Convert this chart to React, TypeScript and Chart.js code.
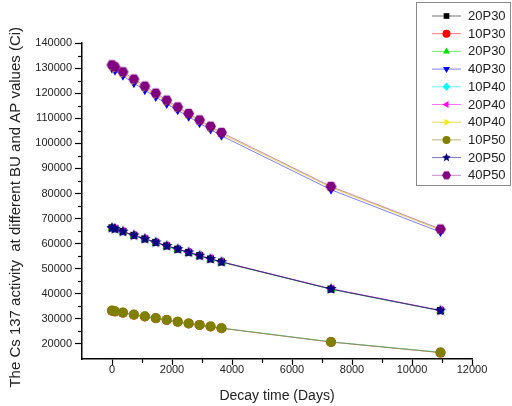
import React, { useEffect, useRef } from 'react';
import { Chart, registerables } from 'chart.js';
import { drawPoint } from 'chart.js/helpers';

Chart.register(...registerables);

const days = [0, 100, 365, 730, 1095, 1460, 1825, 2190, 2555, 2920, 3285, 3650, 7300, 10950];

const seriesLabels = ['20P30', '10P30', '20P30', '40P30', '10P40', '20P40', '40P40', '10P50', '20P50', '40P50'];

const s20P30black = [66300, 65900, 64800, 63300, 61900, 60500, 59100, 57800, 56500, 55200, 53900, 52700, 41900, 33300];
const s10P30 = [33250, 32950, 32450, 31650, 30950, 30250, 29550, 28850, 28150, 27550, 26950, 26250, 20750, 16550];
const s20P30green = [66200, 65800, 64700, 63200, 61800, 60400, 59000, 57700, 56400, 55100, 53800, 52600, 41800, 33200];
const s40P30 = [129700, 128900, 126900, 124000, 121200, 118500, 115700, 113200, 110600, 108000, 105500, 103000, 81500, 64600];
const s10P40 = [33350, 33050, 32550, 31750, 31050, 30350, 29650, 28950, 28250, 27650, 27050, 26350, 20850, 16650];
const s20P40 = [66400, 66000, 64900, 63400, 62000, 60600, 59200, 57900, 56600, 55300, 54000, 52800, 42000, 33400];
const s40P40 = [130600, 129800, 127800, 124900, 122100, 119300, 116600, 114000, 111400, 108800, 106300, 103800, 82400, 65400];
const s10P50 = [33300, 33000, 32500, 31700, 31000, 30300, 29600, 28900, 28200, 27600, 27000, 26300, 20800, 16600];
const s20P50 = [66300, 65900, 64800, 63300, 61900, 60500, 59100, 57800, 56500, 55200, 53900, 52700, 41900, 33300];
const s40P50 = [131300, 130500, 128500, 125600, 122800, 120000, 117200, 114500, 111900, 109300, 106800, 104300, 82800, 65800];

const seriesValues = [s20P30black, s10P30, s20P30green, s40P30, s10P40, s20P40, s40P40, s10P50, s20P50, s40P50];

const xTicks = [0, 2000, 4000, 6000, 8000, 10000, 12000];
const xMinorTicks = [1000, 3000, 5000, 7000, 9000, 11000];
const yTicks = [20000, 30000, 40000, 50000, 60000, 70000, 80000, 90000, 100000, 110000, 120000, 130000, 140000];
const yMinorTicks = [25000, 35000, 45000, 55000, 65000, 75000, 85000, 95000, 105000, 115000, 125000, 135000];

const FONT = '"Liberation Sans", Arial, sans-serif';

function makeStar(color: string, r: number): HTMLCanvasElement {
  const size = Math.ceil(r * 2 + 2);
  const c = document.createElement('canvas');
  c.width = size; c.height = size;
  const ctx = c.getContext('2d')!;
  const cx = size / 2, cy = size / 2;
  ctx.beginPath();
  for (let i = 0; i < 10; i++) {
    const rr = i % 2 === 0 ? r : r * 0.45;
    const a = -Math.PI / 2 + (i * Math.PI) / 5;
    const px = cx + rr * Math.cos(a), py = cy + rr * Math.sin(a);
    if (i === 0) ctx.moveTo(px, py); else ctx.lineTo(px, py);
  }
  ctx.closePath();
  ctx.fillStyle = color;
  ctx.fill();
  return c;
}

function makeHex(color: string, r: number): HTMLCanvasElement {
  const size = Math.ceil(r * 2 + 2);
  const c = document.createElement('canvas');
  c.width = size; c.height = size;
  const ctx = c.getContext('2d')!;
  const cx = size / 2, cy = size / 2;
  ctx.beginPath();
  for (let i = 0; i < 6; i++) {
    const a = (i * Math.PI) / 3;
    const px = cx + r * Math.cos(a), py = cy + r * Math.sin(a);
    if (i === 0) ctx.moveTo(px, py); else ctx.lineTo(px, py);
  }
  ctx.closePath();
  ctx.fillStyle = color;
  ctx.fill();
  return c;
}

const minorTickPlugin = {
  id: 'minorTicks',
  afterDraw(chart: any) {
    const { ctx, scales, chartArea } = chart;
    ctx.save();
    ctx.strokeStyle = '#000';
    ctx.lineWidth = 1.2;
    for (const v of xMinorTicks) {
      const px = Math.round(scales.x.getPixelForValue(v)) + 0.5;
      ctx.beginPath();
      ctx.moveTo(px, chartArea.bottom);
      ctx.lineTo(px, chartArea.bottom + 4);
      ctx.stroke();
    }
    for (const v of yMinorTicks) {
      const py = Math.round(scales.y.getPixelForValue(v)) + 0.5;
      ctx.beginPath();
      ctx.moveTo(chartArea.left, py);
      ctx.lineTo(chartArea.left - 4, py);
      ctx.stroke();
    }
    ctx.restore();
  },
};

const legendPlugin = {
  id: 'boxLegend',
  afterDraw(chart: any) {
    const ctx = chart.ctx;
    ctx.save();
    ctx.fillStyle = '#fff';
    ctx.fillRect(416.5, 2.5, 94, 183);
    ctx.strokeStyle = '#8a8a8a';
    ctx.lineWidth = 1;
    ctx.strokeRect(416.5, 2.5, 94, 183);
    chart.data.datasets.forEach((ds: any, i: number) => {
      const y = 16 + i * 17.7;
      ctx.strokeStyle = ds.borderColor;
      ctx.lineWidth = 1;
      ctx.beginPath();
      ctx.moveTo(432, y);
      ctx.lineTo(461, y);
      ctx.stroke();
      ctx.fillStyle = ds.pointBackgroundColor;
      drawPoint(ctx, { pointStyle: ds.legendStyle, rotation: ds.pointRotation || 0, radius: 4, borderWidth: 0 } as any, 446.5, y);
      ctx.fillStyle = '#222';
      ctx.font = '13px ' + FONT;
      ctx.textAlign = 'left';
      ctx.textBaseline = 'middle';
      ctx.fillText(ds.label, 468, y + 0.5);
    });
    ctx.restore();
  },
};

export default function App() {
  const ref = useRef<HTMLCanvasElement>(null);

  useEffect(() => {
    if (!ref.current) return;
    const styles = [
      { color: '#000000', line: 'rgba(0,0,0,0.55)', style: 'rect', rot: 0 },
      { color: '#ff0000', line: 'rgba(255,0,0,0.55)', style: 'circle', rot: 0 },
      { color: '#00e000', line: 'rgba(0,220,0,0.55)', style: 'triangle', rot: 0 },
      { color: '#0000ff', line: 'rgba(0,0,255,0.5)', style: 'triangle', rot: 180 },
      { color: '#00ffff', line: 'rgba(0,230,230,0.6)', style: 'rectRot', rot: 0 },
      { color: '#ff00ff', line: 'rgba(255,0,255,0.55)', style: 'triangle', rot: -90 },
      { color: '#f0f000', line: 'rgba(230,200,0,0.7)', style: 'triangle', rot: 90 },
      { color: '#808000', line: 'rgba(128,128,0,0.55)', style: 'circle', rot: 0 },
      { color: '#000080', line: 'rgba(0,0,128,0.55)', style: 'star', rot: 0 },
      { color: '#800080', line: 'rgba(160,60,160,0.6)', style: 'hex', rot: 0 },
    ];

    const datasets = seriesValues.map((vals, i) => {
      const st = styles[i];
      let pointStyle: any = st.style;
      let legendStyle: any = st.style;
      if (st.style === 'star') {
        pointStyle = makeStar(st.color, 6);
        legendStyle = makeStar(st.color, 4.5);
      } else if (st.style === 'hex') {
        pointStyle = makeHex(st.color, 5.5);
        legendStyle = makeHex(st.color, 4.5);
      }
      return {
        label: seriesLabels[i],
        data: days.map((d, j) => ({ x: d, y: vals[j] })),
        borderColor: st.line,
        backgroundColor: st.color,
        pointBackgroundColor: st.color,
        pointBorderWidth: 0,
        pointRadius: 5,
        pointStyle,
        legendStyle,
        pointRotation: st.rot,
        borderWidth: 1,
        fill: false,
        tension: 0,
        order: 9 - i,
      };
    });

    const chart = new Chart(ref.current, {
      type: 'line',
      data: { datasets: datasets as any },
      options: {
        responsive: false,
        animation: false,
        events: [],
        layout: { padding: { top: 43, right: 40, left: 0, bottom: 0 } },
        plugins: {
          legend: { display: false },
          tooltip: { enabled: false },
        },
        scales: {
          x: {
            type: 'linear',
            min: -1000,
            max: 12000,
            afterBuildTicks: (s: any) => {
              s.ticks = xTicks.map((v) => ({ value: v }));
            },
            afterFit: (s: any) => {
              s.height = 47;
            },
            grid: { display: true, drawOnChartArea: false, drawTicks: true, tickLength: 6, tickColor: '#000', tickWidth: 1.2 },
            border: { display: true, color: '#000', width: 1.5 },
            ticks: {
              autoSkip: false,
              maxRotation: 0,
              padding: -2,
              color: '#222',
              font: { family: FONT, size: 11 },
              callback: (v: any) => String(v),
            },
            title: {
              display: true,
              text: 'Decay time (Days)',
              color: '#222',
              font: { family: FONT, size: 14 },
              padding: { top: 0, bottom: 1 },
            },
          },
          y: {
            type: 'linear',
            min: 14000,
            max: 140000,
            afterBuildTicks: (s: any) => {
              s.ticks = yTicks.map((v) => ({ value: v }));
            },
            afterFit: (s: any) => {
              s.width = 82;
            },
            grid: { display: true, drawOnChartArea: false, drawTicks: true, tickLength: 7, tickColor: '#000', tickWidth: 1.2 },
            border: { display: true, color: '#000', width: 1.5 },
            ticks: {
              autoSkip: false,
              padding: 3,
              color: '#222',
              font: { family: FONT, size: 11 },
              callback: (v: any) => String(v),
            },
            title: {
              display: true,
              text: 'The Cs 137 activity  at different BU and AP values (Ci)   ',
              color: '#222',
              font: { family: FONT, size: 15 },
              padding: { top: 7, bottom: 0 },
            },
          },
        },
      },
      plugins: [minorTickPlugin, legendPlugin],
    });

    return () => chart.destroy();
  }, []);

  return (
    <div style={{ position: 'absolute', left: 0, top: 0, width: 512, height: 406, background: '#fff' }}>
      <canvas ref={ref} width={512} height={406} style={{ display: 'block', width: 512, height: 406 }} />
    </div>
  );
}
